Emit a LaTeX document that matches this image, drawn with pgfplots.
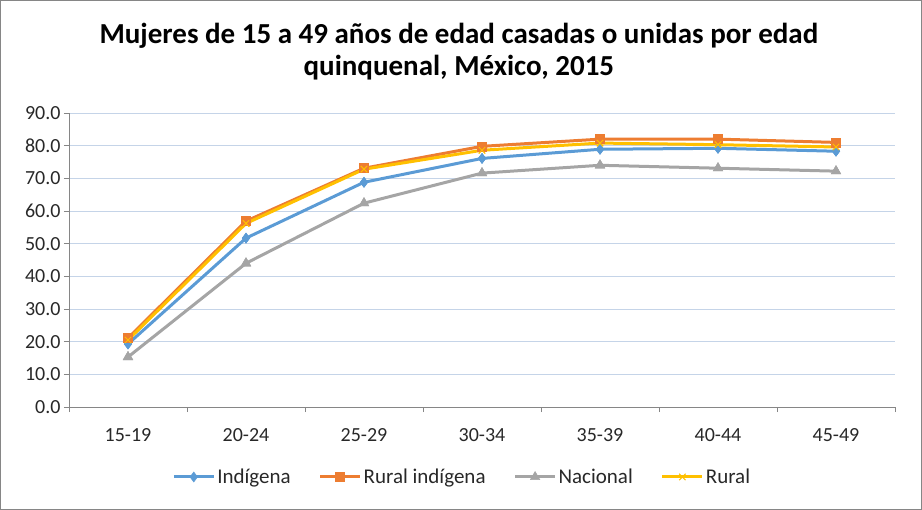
\documentclass[border=0pt]{standalone}
\usepackage{pgfplots}
\pgfplotsset{compat=1.18}
\usepackage{fontspec}
\setmainfont{Carlito}

\definecolor{cInd}{RGB}{91,155,213}
\definecolor{cRurInd}{RGB}{237,125,49}
\definecolor{cNac}{RGB}{165,165,165}
\definecolor{cRur}{RGB}{255,192,0}
\definecolor{cGrid}{RGB}{197,212,232}
\definecolor{cAxis}{RGB}{134,134,134}
\definecolor{cText}{RGB}{40,40,40}

% edades: 0=15-19 ... 6=45-49
\pgfplotstableread{
x ind rurind nac rur
0 19.3 21.1 15.3 20.5
1 51.7 56.9 44.0 56.2
2 68.8 73.1 62.4 72.8
3 76.1 79.8 71.6 78.6
4 78.9 82.0 74.0 80.8
5 79.2 82.0 73.1 80.3
6 78.3 81.0 72.2 79.6
}\datos

\begin{document}
\begin{tikzpicture}
\useasboundingbox (0,0) rectangle (922bp,-510bp);
\draw[cAxis, line width=1bp] (0.5bp,-0.5bp) rectangle (921.5bp,-509.5bp);
\begin{axis}[
  at={(69bp,-407bp)}, anchor=south west,
  scale only axis, width=826bp, height=294bp,
  xmin=-0.5, xmax=6.5, ymin=0, ymax=90,
  axis lines=left, axis line style={-, cAxis, line width=0.8bp},
  xtick={0,...,6},
  xticklabels={15-19,20-24,25-29,30-34,35-39,40-44,45-49},
  minor xtick={-0.5,0.5,...,6.5},
  ytick={0,10,...,90},
  tick align=outside,
  major x tick style={draw=none},
  minor x tick style={cAxis, line width=0.8bp},
  major y tick style={cAxis, line width=0.8bp},
  major tick length=5bp, minor tick length=5bp,
  ymajorgrids, grid style={cGrid, line width=0.8bp},
  yticklabel style={/pgf/number format/fixed, /pgf/number format/fixed zerofill,
    /pgf/number format/precision=1},
  /pgf/number format/assume math mode=true,
  tick label style={font=\fontsize{20bp}{22bp}\selectfont, text=cText},
  xticklabel style={yshift=-13bp},
  title={Mujeres de 15 a 49 años de edad casadas o unidas por edad\\quinquenal, México, 2015},
  title style={font=\fontsize{29bp}{32bp}\selectfont\bfseries, align=center,
    at={(0.472,1.187)}, anchor=center},
  legend style={draw=none, fill=none, at={(0.476,-0.238)}, anchor=center,
    font=\fontsize{21bp}{23bp}\selectfont, text=cText,
    /tikz/every even column/.append style={column sep=26bp}},
  legend columns=4,
  legend image code/.code={
    \draw[#1, mark repeat=2, mark phase=2] plot coordinates {(0bp,0bp) (20bp,0bp) (40bp,0bp)};},
  every axis plot/.append style={line width=3bp},
  clip=false,
]
\addplot[cInd, mark=diamond*, mark size=5bp, mark options={solid, line width=0.5bp}] table[x=x, y=ind] {\datos};
\addplot[cRurInd, mark=square*, mark size=4.5bp, mark options={solid, line width=0.5bp}] table[x=x, y=rurind] {\datos};
\addplot[cNac, mark=triangle*, mark size=5.5bp, mark options={solid, line width=0.5bp}] table[x=x, y=nac] {\datos};
\addplot[cRur, mark=x, mark size=4.5bp, mark options={solid, line width=1bp}] table[x=x, y=rur] {\datos};
\addplot[forget plot, only marks, cInd, mark=diamond*, mark size=5bp, mark options={line width=0.5bp}] table[x=x, y=ind] {\datos};
\addplot[forget plot, only marks, cRurInd, mark=square*, mark size=4.5bp, mark options={line width=0.5bp}] table[x=x, y=rurind] {\datos};
\addplot[forget plot, only marks, cNac, mark=triangle*, mark size=5.5bp, mark options={line width=0.5bp}] table[x=x, y=nac] {\datos};
\addplot[forget plot, only marks, cRur, mark=x, mark size=4.5bp, mark options={line width=1bp}] table[x=x, y=rur] {\datos};
\legend{Indígena, Rural indígena, Nacional, Rural}
\end{axis}
\end{tikzpicture}
\end{document}
